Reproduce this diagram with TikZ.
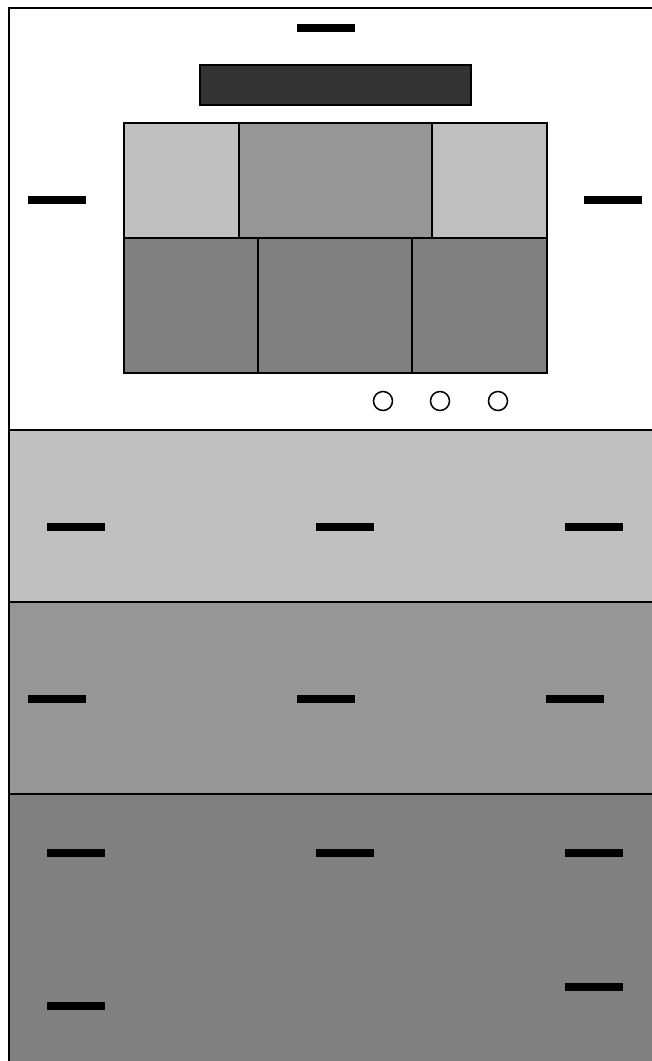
\documentclass[tikz,border=0pt]{standalone}
\definecolor{lightg}{HTML}{C0C0C0}
\definecolor{midg}{HTML}{969696}
\definecolor{darkg}{HTML}{808080}
\definecolor{blackg}{HTML}{333333}
\tikzset{
  bar/.style={fill=black, draw=none, inner sep=0pt, outer sep=0pt, minimum width=58pt, minimum height=8pt, anchor=north west},
  cell/.style={draw=black, line width=1.5pt, inner sep=0pt, outer sep=0pt, anchor=north west},
  knob/.style={circle, draw=black, line width=1.5pt, inner sep=0pt, minimum size=19pt},
}
\begin{document}
\begin{tikzpicture}[x=1pt,y=-1pt]
\useasboundingbox (0,0) rectangle (652,1061);
% bands
\fill[white] (9,8) rectangle (670,430);
\fill[lightg] (9,430) rectangle (670,602);
\fill[midg] (9,602) rectangle (670,794);
\fill[darkg] (9,794) rectangle (670,1080);
\draw[line width=1.5pt] (9,1080) -- (9,8) -- (670,8);
\draw[line width=1.5pt] (9,430) -- (670,430);
\draw[line width=1.5pt] (9,602) -- (670,602);
\draw[line width=1.5pt] (9,794) -- (670,794);
% top display
\node[cell, fill=blackg, minimum width=271pt, minimum height=40pt] (disp) at (200,65) {};
% grid
\node[cell, fill=lightg, minimum width=115pt, minimum height=115pt] (c11) at (124,123) {};
\node[cell, fill=midg, minimum width=193pt, minimum height=115pt] (c12) at (239,123) {};
\node[cell, fill=lightg, minimum width=115pt, minimum height=115pt] (c13) at (432,123) {};
\node[cell, fill=darkg, minimum width=134pt, minimum height=135pt] (c21) at (124,238) {};
\node[cell, fill=darkg, minimum width=154pt, minimum height=135pt] (c22) at (258,238) {};
\node[cell, fill=darkg, minimum width=135pt, minimum height=135pt] (c23) at (412,238) {};
% knobs
\node[knob] (k1) at (383,401) {};
\node[knob] (k2) at (440,401) {};
\node[knob] (k3) at (498,401) {};
% bars top section
\node[bar] (b0) at (297,24) {};
\node[bar] (bl) at (28,196) {};
\node[bar] (br) at (584,196) {};
% light band
\node[bar] (l1) at (47,523) {};
\node[bar] (l2) at (316,523) {};
\node[bar] (l3) at (565,523) {};
% mid band
\node[bar] (m1) at (28,695) {};
\node[bar] (m2) at (297,695) {};
\node[bar] (m3) at (546,695) {};
% dark band
\node[bar] (d1) at (47,849) {};
\node[bar] (d2) at (316,849) {};
\node[bar] (d3) at (565,849) {};
\node[bar] (d4) at (47,1002) {};
\node[bar] (d5) at (565,983) {};
\end{tikzpicture}
\end{document}
